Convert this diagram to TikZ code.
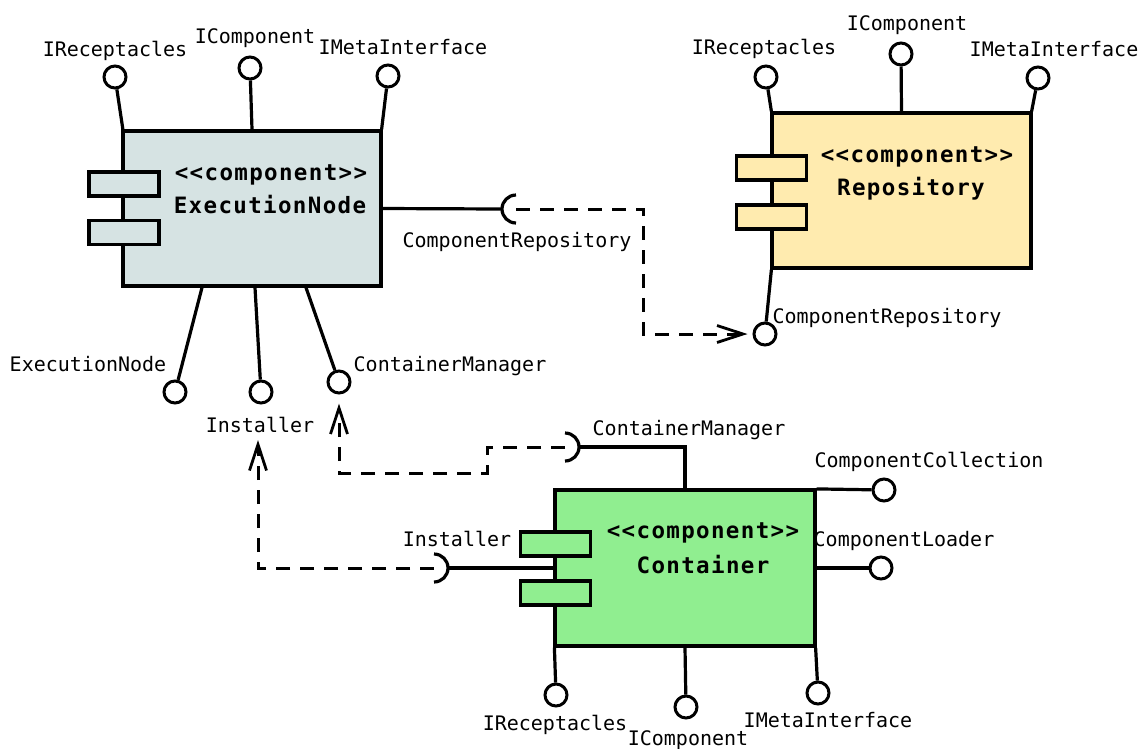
\documentclass[tikz,border=0pt]{standalone}
\usepackage{fontspec}
\setmonofont{DejaVu Sans Mono}
\newfontfamily\stereofont[LetterSpace=6]{DejaVu Sans Mono}
\usetikzlibrary{arrows.meta}

\definecolor{nodefill}{RGB}{214,227,227}
\definecolor{repofill}{RGB}{255,235,175}
\definecolor{contfill}{RGB}{144,238,144}

\tikzset{
  compbox/.style={draw=black, line width=3.2pt, rectangle, inner sep=0pt},
  porttab/.style={draw=black, line width=3.2pt, rectangle, inner sep=0pt,
                  minimum width=70pt, minimum height=24pt},
  lolli/.style={draw=black, line width=3pt, circle, fill=white,
                inner sep=0pt, minimum size=22pt},
  lead/.style={line width=3.2pt},
  depline/.style={line width=3pt, dash pattern=on 14pt off 10pt,
                  -{Straight Barb[length=26pt,width=17pt,line width=2.8pt]}},
  lbl/.style={font=\fontsize{20}{20}\selectfont\ttfamily, inner sep=0pt, anchor=base},
  stereo/.style={font=\fontsize{22.5}{22.5}\selectfont\stereofont\bfseries,
                 inner sep=0pt, anchor=base},
}

\begin{document}
\begin{tikzpicture}[x=1pt, y=-1pt]
\useasboundingbox (0,0) rectangle (1147,748);

% ---------------- ExecutionNode ----------------
\node[compbox, fill=nodefill, minimum width=258pt, minimum height=155pt] (exec) at (252,208.5) {};
\node[porttab, fill=nodefill] (execTabA) at (124,184) {};
\node[porttab, fill=nodefill] (execTabB) at (124,232.5) {};
\node[stereo] (execStereo) at (271,180) {<<component>>};
\node[stereo] (execName) at (270,213) {ExecutionNode};

\node[lolli] (execRcp) at (115,77) {};
\node[lolli] (execCmp) at (250,68) {};
\node[lolli] (execMeta) at (388,76) {};
\draw[lead] ([xshift=1.5pt]exec.north west) -- (execRcp);
\draw[lead] (exec.north) -- (execCmp);
\draw[lead] ([xshift=-1pt]exec.north east) -- (execMeta);
\node[lbl] (execRcpL) at (115,56) {IReceptacles};
\node[lbl] (execCmpL) at (255,43) {IComponent};
\node[lbl] (execMetaL) at (403,54) {IMetaInterface};

\coordinate (execRepoSk) at (516,209);
\draw[lead] (exec.east) -- ([xshift=-14pt]execRepoSk);
\draw[lead] ([yshift=14pt]execRepoSk) arc[start angle=90, end angle=270, radius=14pt];
\node[lbl] (execRepoL) at (517,247) {ComponentRepository};

\node[lolli] (execExe) at (175,392) {};
\node[lolli] (execIns) at (261,392) {};
\node[lolli] (execCM) at (339,382) {};
\draw[lead] ([xshift=-50pt]exec.south) -- (execExe);
\draw[lead] ([xshift=3pt]exec.south) -- (execIns);
\draw[lead] ([xshift=54pt]exec.south) -- (execCM);
\node[lbl] (execExeL) at (88,371) {ExecutionNode};
\node[lbl] (execInsL) at (260,432) {Installer};
\node[lbl] (execCML) at (450,371) {ContainerManager};

% ---------------- Repository ----------------
\node[compbox, fill=repofill, minimum width=259pt, minimum height=155pt] (repo) at (901.5,190.5) {};
\node[porttab, fill=repofill] (repoTabA) at (771.5,168) {};
\node[porttab, fill=repofill] (repoTabB) at (771.5,217) {};
\node[stereo] (repoStereo) at (917,162) {<<component>>};
\node[stereo] (repoName) at (911,195) {Repository};

\node[lolli] (repoRcp) at (766,77) {};
\node[lolli] (repoCmp) at (901,54) {};
\node[lolli] (repoMeta) at (1038,78) {};
\draw[lead] ([xshift=1pt]repo.north west) -- (repoRcp);
\draw[lead] (repo.north) -- (repoCmp);
\draw[lead] ([xshift=-1pt]repo.north east) -- (repoMeta);
\node[lbl] (repoRcpL) at (764,54) {IReceptacles};
\node[lbl] (repoCmpL) at (907,30) {IComponent};
\node[lbl] (repoMetaL) at (1054,56) {IMetaInterface};

\node[lolli] (repoRepo) at (765,334) {};
\draw[lead] ([xshift=1pt]repo.south west) -- (repoRepo);
\node[lbl] (repoRepoL) at (887,323) {ComponentRepository};

% ---------------- Container ----------------
\node[compbox, fill=contfill, minimum width=260pt, minimum height=156pt] (cont) at (685,568) {};
\node[porttab, fill=contfill] (contTabA) at (555.5,544) {};
\node[porttab, fill=contfill] (contTabB) at (555.5,593) {};
\node[stereo] (contStereo) at (703,538) {<<component>>};
\node[stereo] (contName) at (703,573) {Container};

\coordinate (contCMSk) at (565,447);
\draw[lead] (cont.north) |- ([xshift=14pt]contCMSk);
\draw[lead] ([yshift=-14pt]contCMSk) arc[start angle=-90, end angle=90, radius=14pt];
\node[lbl] (contCML) at (689,435) {ContainerManager};

\coordinate (contInsSk) at (434,568);
\draw[lead] (cont.west) -- ([xshift=14pt]contInsSk);
\draw[lead] ([yshift=-14pt]contInsSk) arc[start angle=-90, end angle=90, radius=14pt];
\node[lbl] (contInsL) at (457,546) {Installer};

\node[lolli] (contColl) at (884,490) {};
\node[lolli] (contLoad) at (881,568) {};
\draw[lead] ([yshift=-0.5pt]cont.north east) -- (contColl);
\draw[lead] (cont.east) -- (contLoad);
\node[lbl] (contCollL) at (929,467) {ComponentCollection};
\node[lbl] (contLoadL) at (904,546) {ComponentLoader};

\node[lolli] (contRcp) at (556,695) {};
\node[lolli] (contCmp) at (686,707) {};
\node[lolli] (contMeta) at (818,693) {};
\draw[lead] ([xshift=1pt]cont.south west) -- (contRcp);
\draw[lead] (cont.south) -- (contCmp);
\draw[lead] ([xshift=-1pt]cont.south east) -- (contMeta);
\node[lbl] (contRcpL) at (555,730) {IReceptacles};
\node[lbl] (contCmpL) at (688,745) {IComponent};
\node[lbl] (contMetaL) at (828,727) {IMetaInterface};

% ---------------- dependencies ----------------
\coordinate (insTip) at (258,440);
\draw[depline, shorten >=5pt] (execRepoSk) -- ++(127,0) |- (repoRepo.west);
\draw[depline] (contInsSk) -| (insTip);
\draw[depline, shorten >=9pt] (contCMSk) -- ++(-78,0) -- ++(0,26) -| (execCM.south);
\end{tikzpicture}
\end{document}
